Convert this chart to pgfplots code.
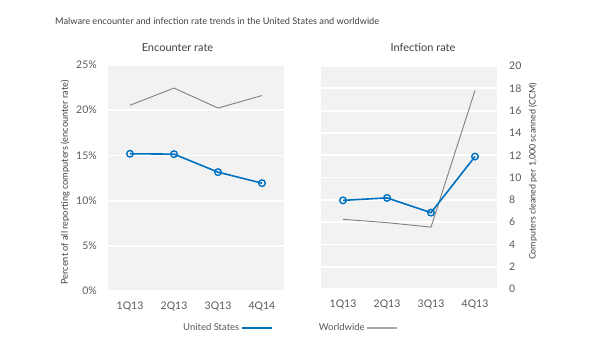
\documentclass[border=0pt]{standalone}
\usepackage{fontspec}
\setmainfont{Lato}
\usepackage{pgfplots}
\pgfplotsset{compat=1.18}
\definecolor{usblue}{RGB}{0,112,192}
\definecolor{wwgray}{RGB}{128,128,128}
\definecolor{wwleg}{RGB}{166,166,166}
\definecolor{bgc}{RGB}{242,242,242}
\definecolor{txt}{RGB}{89,89,89}
\definecolor{ttl}{RGB}{64,64,64}
\begin{document}
\begin{tikzpicture}[x=1pt,y=1pt]
\useasboundingbox (0,0) rectangle (600,-359);
\pgfplotsset{
  common/.style={
    scale only axis, width=176pt,
    xmin=-0.5, xmax=3.5, xtick={0,1,2,3},
    axis background/.style={fill=bgc},
    axis line style={draw=none},
    major tick length=0pt,
    ymajorgrids, xmajorgrids=false,
    grid style={white, line width=1.8pt},
    tick label style={font=\fontsize{10.5}{12}\selectfont, text=txt},
    xticklabel style={anchor=north, inner sep=0pt, yshift=-11pt},
    /pgf/number format/assume math mode=true,
    clip=false,
  },
  usline/.style={usblue, line width=1.6pt, mark=o, mark size=3.3pt, mark options={fill=white, line width=1.4pt, solid}},
  wwline/.style={wwgray, line width=0.9pt, mark=none},
}
\node[anchor=west, font=\fontsize{9.2}{11}\selectfont, text=ttl, inner sep=0pt] at (55,-21) {Malware encounter and infection rate trends in the United States and worldwide};
\node[font=\fontsize{11}{13}\selectfont, text=ttl] at (177.5,-48) {Encounter rate};
\node[font=\fontsize{11}{13}\selectfont, text=ttl] at (423,-48) {Infection rate};

\begin{axis}[common, at={(108pt,-291pt)}, anchor=south west, height=226pt,
  ymin=0, ymax=25, ytick={0,5,10,15,20,25},
  yticklabel={\pgfmathprintnumber{\tick}\%},
  yticklabel style={anchor=east, inner sep=0pt, xshift=-11pt},
  xticklabels={1Q13,2Q13,3Q13,4Q14},
  ylabel={Percent of all reporting computers (encounter rate)},
  ylabel style={at={(axis description cs:-0.244,0.48)}, anchor=center, font=\fontsize{9.2}{11}\selectfont, text=ttl},
  legend columns=2, legend plot pos=right,
  legend image code/.code={\draw[#1] (0pt,0pt) -- (30pt,0pt);},
  legend style={draw=none, fill=none, inner sep=0pt, font=\fontsize{9.5}{11}\selectfont, text=txt,
    at={(axis description cs:0.4148,-0.1637)}, anchor=west,
    nodes={inner sep=2pt},
    /tikz/every even column/.append style={column sep=44pt}},
]
\addplot[usline, forget plot] coordinates {(0,15.18) (1,15.14) (2,13.15) (3,11.93)};
\addplot[wwline, forget plot] coordinates {(0,20.55) (1,22.45) (2,20.24) (3,21.62)};
\addlegendimage{usblue, line width=1.6pt}
\addlegendentry{United States}
\addlegendimage{wwleg, line width=1.3pt}
\addlegendentry{Worldwide}
\end{axis}

\begin{axis}[common, at={(321pt,-289pt)}, anchor=south west, height=223pt,
  ymin=0, ymax=20, ytick={0,2,...,20},
  yticklabel pos=right,
  yticklabel style={anchor=west, inner sep=0pt, xshift=12pt},
  xticklabels={1Q13,2Q13,3Q13,4Q13},
  ylabel={Computers cleaned per 1,000 scanned (CCM)},
  ylabel style={at={(axis description cs:1.2045,0.527)}, anchor=center, rotate=0, font=\fontsize{8.9}{11}\selectfont, text=ttl},
]
\addplot[wwline] coordinates {(0,6.25) (1,5.95) (2,5.55) (3,17.8)};
\addplot[usline] coordinates {(0,7.95) (1,8.17) (2,6.85) (3,11.88)};
\end{axis}
\end{tikzpicture}
\end{document}
